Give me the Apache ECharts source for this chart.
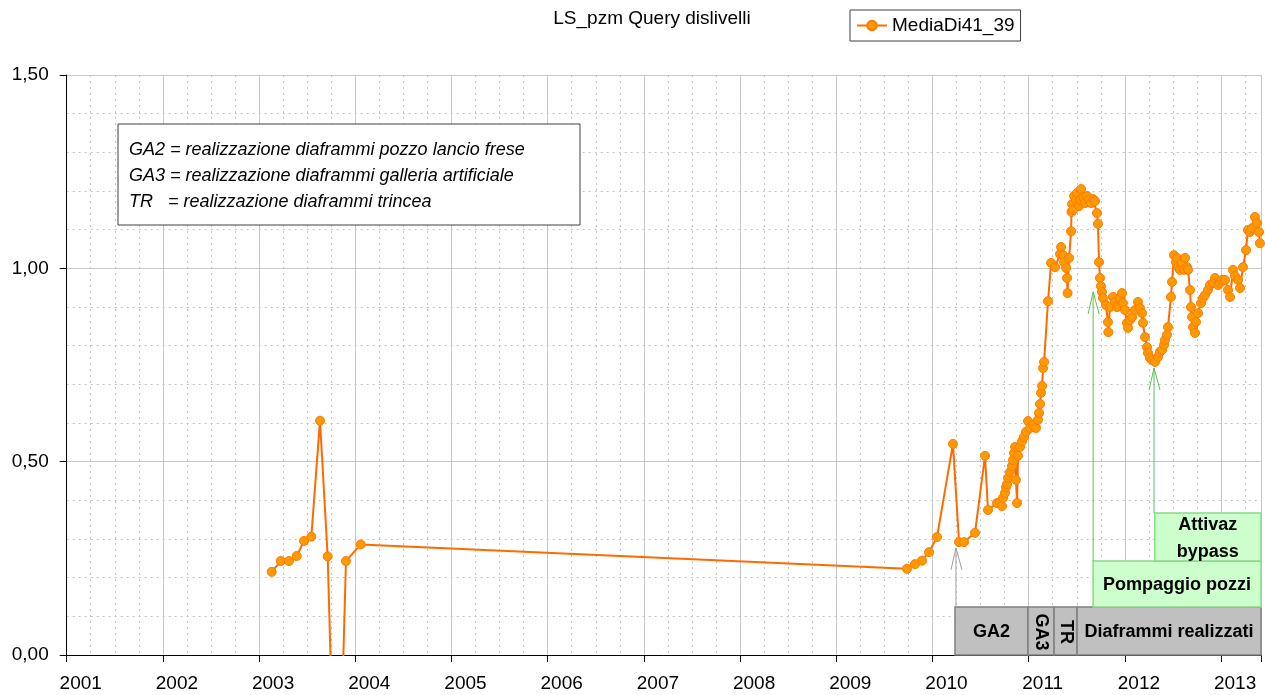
<!DOCTYPE html>
<html lang="it">
<head>
    <meta charset="UTF-8">
    <title>LS_pzm Query dislivelli</title>
    <script src="https://cdn.jsdelivr.net/npm/echarts@6/dist/echarts.min.js"></script>
    <style>
        html, body { margin: 0; padding: 0; background: #fff; }
        #main { width: 1265px; height: 695px; }
    </style>
</head>
<body>
<div id="main"></div>
<script type="text/javascript">

    // date come anno decimale
    var years = [
        2003.131, 2003.225, 2003.311, 2003.391, 2003.467, 2003.543, 2003.633, 2003.713, 2003.810, 2003.903, 2004.056,
        2009.735, 2009.818, 2009.891, 2009.964, 2010.047, 2010.213, 2010.276, 2010.328, 2010.442, 2010.546, 2010.577,
        2010.671, 2010.702, 2010.723, 2010.733, 2010.754, 2010.764, 2010.775, 2010.785, 2010.806, 2010.827,
        2010.837, 2010.848, 2010.858, 2010.868, 2010.879, 2010.889, 2010.910, 2010.931, 2010.951, 2010.972,
        2010.993, 2011.014, 2011.045, 2011.076, 2011.097, 2011.108, 2011.118, 2011.128, 2011.139, 2011.149,
        2011.160, 2011.201, 2011.233, 2011.274, 2011.326, 2011.337, 2011.358, 2011.368, 2011.389, 2011.399,
        2011.404, 2011.420, 2011.441, 2011.445, 2011.451, 2011.462, 2011.472, 2011.493, 2011.503, 2011.524,
        2011.535, 2011.545, 2011.566, 2011.587, 2011.607, 2011.628, 2011.649, 2011.670, 2011.690,
        2011.710, 2011.720, 2011.731, 2011.741, 2011.751, 2011.762, 2011.772, 2011.803, 2011.824, 2011.828,
        2011.845, 2011.876, 2011.897, 2011.918, 2011.949, 2011.970, 2011.980, 2012.001, 2012.022, 2012.032,
        2012.053, 2012.074, 2012.105, 2012.136, 2012.157, 2012.178, 2012.188, 2012.209, 2012.230, 2012.240,
        2012.261, 2012.282, 2012.313, 2012.344, 2012.365, 2012.386, 2012.407, 2012.417, 2012.438, 2012.448,
        2012.479, 2012.490, 2012.511, 2012.531, 2012.542, 2012.552, 2012.573, 2012.594, 2012.615, 2012.625,
        2012.646, 2012.656, 2012.677, 2012.687, 2012.698, 2012.708, 2012.729, 2012.739, 2012.760, 2012.791,
        2012.812, 2012.833, 2012.864, 2012.885, 2012.916, 2012.937, 2012.968, 2012.989, 2013.010, 2013.041,
        2013.072, 2013.093, 2013.124, 2013.145, 2013.176, 2013.197, 2013.228, 2013.259, 2013.279, 2013.300,
        2013.321, 2013.352, 2013.373, 2013.394, 2013.404
    ];
    var values = [
        0.215, 0.243, 0.243, 0.256, 0.295, 0.306, 0.606, 0.255, -0.600, 0.243, 0.286,
        0.223, 0.235, 0.244, 0.266, 0.305, 0.546, 0.292, 0.292, 0.316, 0.515, 0.375,
        0.393, 0.396, 0.385, 0.406, 0.419, 0.434, 0.442, 0.458, 0.473, 0.489,
        0.504, 0.522, 0.538, 0.453, 0.393, 0.515, 0.538, 0.553, 0.564, 0.577,
        0.605, 0.587, 0.595, 0.587, 0.608, 0.626, 0.649, 0.678, 0.696, 0.742,
        0.758, 0.915, 1.014, 1.003, 1.037, 1.055, 1.034, 1.016, 1.001, 0.975,
        0.936, 1.027, 1.096, 1.146, 1.166, 1.151, 1.187, 1.177, 1.195, 1.161,
        1.177, 1.205, 1.184, 1.169, 1.187, 1.177, 1.169, 1.179, 1.174,
        1.143, 1.115, 1.016, 0.975, 0.954, 0.939, 0.923, 0.905, 0.861, 0.835,
        0.900, 0.926, 0.913, 0.900, 0.923, 0.936, 0.910, 0.892, 0.859, 0.846,
        0.866, 0.874, 0.892, 0.913, 0.897, 0.884, 0.859, 0.822, 0.796, 0.781,
        0.768, 0.763, 0.758, 0.771, 0.784, 0.789, 0.802, 0.815, 0.828, 0.848,
        0.926, 0.965, 1.034, 1.016, 1.027, 1.003, 0.996, 1.014, 0.996, 1.027,
        1.003, 0.996, 0.944, 0.900, 0.874, 0.848, 0.833, 0.861, 0.884, 0.910,
        0.923, 0.931, 0.944, 0.957, 0.962, 0.975, 0.957, 0.962, 0.970, 0.970,
        0.944, 0.926, 0.996, 0.980, 0.970, 0.949, 1.003, 1.047, 1.099, 1.094,
        1.104, 1.133, 1.117, 1.094, 1.065
    ];

    // fasi di cantiere (riquadri in basso)
    var phaseNames = ['GA2', 'GA3', 'TR', 'Diaframmi realizzati', 'Pompaggio pozzi', 'Attivaz\nbypass'];
    var phaseFrom = [2010.234, 2010.993, 2011.264, 2011.503, 2011.670, 2012.310];
    var phaseTo = [2010.993, 2011.264, 2011.503, 2013.415, 2013.415, 2013.415];
    var phaseLow = [0, 0, 0, 0, 0.124, 0.243];
    var phaseHigh = [0.124, 0.124, 0.124, 0.124, 0.243, 0.367];

    // frecce
    var arrowX = [2010.244, 2011.670, 2012.303];
    var arrowFrom = [0.124, 0.243, 0.367];
    var arrowTo = [0.277, 0.939, 0.742];

    var noteLines = [
        'GA2 = realizzazione diaframmi pozzo lancio frese',
        'GA3 = realizzazione diaframmi galleria artificiale',
        'TR   = realizzazione diaframmi trincea'
    ];

    var FONT = '"Liberation Sans", Arial, sans-serif';
    var X_MIN = 2001, X_MAX = 2013.415;

    var myChart = echarts.init(document.getElementById('main'));

    var option = {
        animation: false,
        textStyle: {fontFamily: FONT},
        grid: {left: 66.7, right: 4, top: 75, bottom: 40, containLabel: false},
        legend: {
            left: 850, top: 10,
            data: ['MediaDi41_39'],
            itemWidth: 30, itemHeight: 12,
            padding: [6, 6, 6, 6],
            borderColor: '#404040', borderWidth: 1,
            textStyle: {fontSize: 19, color: '#000', fontFamily: FONT}
        },
        xAxis: [{
            type: 'value', min: X_MIN, max: X_MAX, interval: 1,
            axisLine: {lineStyle: {color: '#000'}},
            axisTick: {length: 7, lineStyle: {color: '#000'}},
            axisLabel: {
                fontSize: 19, color: '#000', margin: 19, padding: [0, 0, 0, 28],
                formatter: function (v) {
                    return Number.isInteger(v) ? String(v) : '';
                }
            },
            splitLine: {lineStyle: {color: '#c8c8c8'}}
        }, {
            // griglia trimestrale
            type: 'value', min: X_MIN, max: X_MAX, interval: 0.25, position: 'bottom',
            axisLine: {show: false}, axisTick: {show: false}, axisLabel: {show: false},
            splitLine: {show: true, lineStyle: {color: '#c4c4c4', type: [2, 4]}}
        }],
        yAxis: {
            type: 'value', min: 0, max: 1.5, interval: 0.5,
            axisLine: {show: true, lineStyle: {color: '#000'}},
            axisTick: {show: true, length: 7, lineStyle: {color: '#000'}},
            axisLabel: {
                fontSize: 19, color: '#000', margin: 18,
                formatter: function (v) {
                    return v.toFixed(2).replace('.', ',');
                }
            },
            splitLine: {lineStyle: {color: '#c8c8c8'}},
            minorTick: {show: false, splitNumber: 5},
            minorSplitLine: {show: true, lineStyle: {color: '#c4c4c4', type: [2, 4]}}
        },
        graphic: [{
            type: 'text', x: 652, y: 19, z: 10,
            style: {
                text: 'LS_pzm Query dislivelli',
                align: 'center', verticalAlign: 'middle',
                font: '19px ' + FONT, fill: '#000'
            }
        }, {
            // riquadro legenda sigle
            type: 'rect', x: 118, y: 124, z: 100,
            shape: {x: 0, y: 0, width: 462, height: 101},
            style: {fill: '#fff', stroke: '#404040', lineWidth: 1}
        }].concat(noteLines.map(function (t, i) {
            return {
                type: 'text', x: 129, y: 150 + i * 26, z: 101,
                style: {
                    text: t, verticalAlign: 'middle',
                    font: 'italic 18px ' + FONT, fill: '#000'
                }
            };
        })),
        series: [{
            type: 'line',
            name: 'MediaDi41_39',
            data: years.map(function (y, i) {
                return [y, values[i]];
            }),
            symbol: 'circle', symbolSize: 9, showAllSymbol: true,
            lineStyle: {color: '#ff6a00', width: 2},
            itemStyle: {color: '#ff9900', borderColor: '#ff7a00', borderWidth: 1},
            clip: true, z: 3
        }, {
            type: 'custom',
            name: 'fasi',
            data: phaseFrom.map(function (f, i) {
                return [f, phaseTo[i], phaseLow[i], phaseHigh[i]];
            }),
            encode: {x: [0, 1], y: [2, 3]},
            renderItem: function (params, api) {
                var i = params.dataIndex;
                var p0 = api.coord([api.value(0), api.value(3)]);
                var p1 = api.coord([api.value(1), api.value(2)]);
                var green = i >= 4;
                var vertical = (i === 1 || i === 2);
                var w = p1[0] - p0[0], h = p1[1] - p0[1];
                return {
                    type: 'group',
                    children: [{
                        type: 'rect',
                        shape: {x: p0[0], y: p0[1], width: w, height: h},
                        style: {
                            fill: green ? '#ccffcc' : '#c0c0c0',
                            stroke: green ? '#8ad88a' : '#808080', lineWidth: 1.5
                        }
                    }, {
                        type: 'text',
                        x: p0[0] + w / 2, y: p0[1] + h / 2 + 1,
                        rotation: vertical ? -Math.PI / 2 : 0,
                        style: {
                            text: phaseNames[i], align: 'center', verticalAlign: 'middle',
                            font: 'bold 18px ' + FONT, fill: '#000', lineHeight: 27
                        }
                    }]
                };
            },
            z: 4
        }, {
            type: 'custom',
            name: 'frecce',
            data: arrowX.map(function (x, i) {
                return [x, arrowFrom[i], arrowTo[i]];
            }),
            encode: {x: 0, y: [1, 2]},
            renderItem: function (params, api) {
                var i = params.dataIndex;
                var a = api.coord([api.value(0), api.value(1)]);
                var b = api.coord([api.value(0), api.value(2)]);
                var col = i === 0 ? '#a0a0a0' : '#5cbf5c';
                return {
                    type: 'group',
                    children: [{
                        type: 'line',
                        shape: {x1: a[0], y1: a[1], x2: b[0], y2: b[1]},
                        style: {stroke: col, lineWidth: 1}
                    }, {
                        type: 'polyline',
                        shape: {points: [[b[0] - 5, b[1] + 22], [b[0], b[1]], [b[0] + 6, b[1] + 22]]},
                        style: {stroke: col, fill: null, lineWidth: 1}
                    }]
                };
            },
            z: 5
        }]
    };

    myChart.setOption(option);
</script>
</body>
</html>
